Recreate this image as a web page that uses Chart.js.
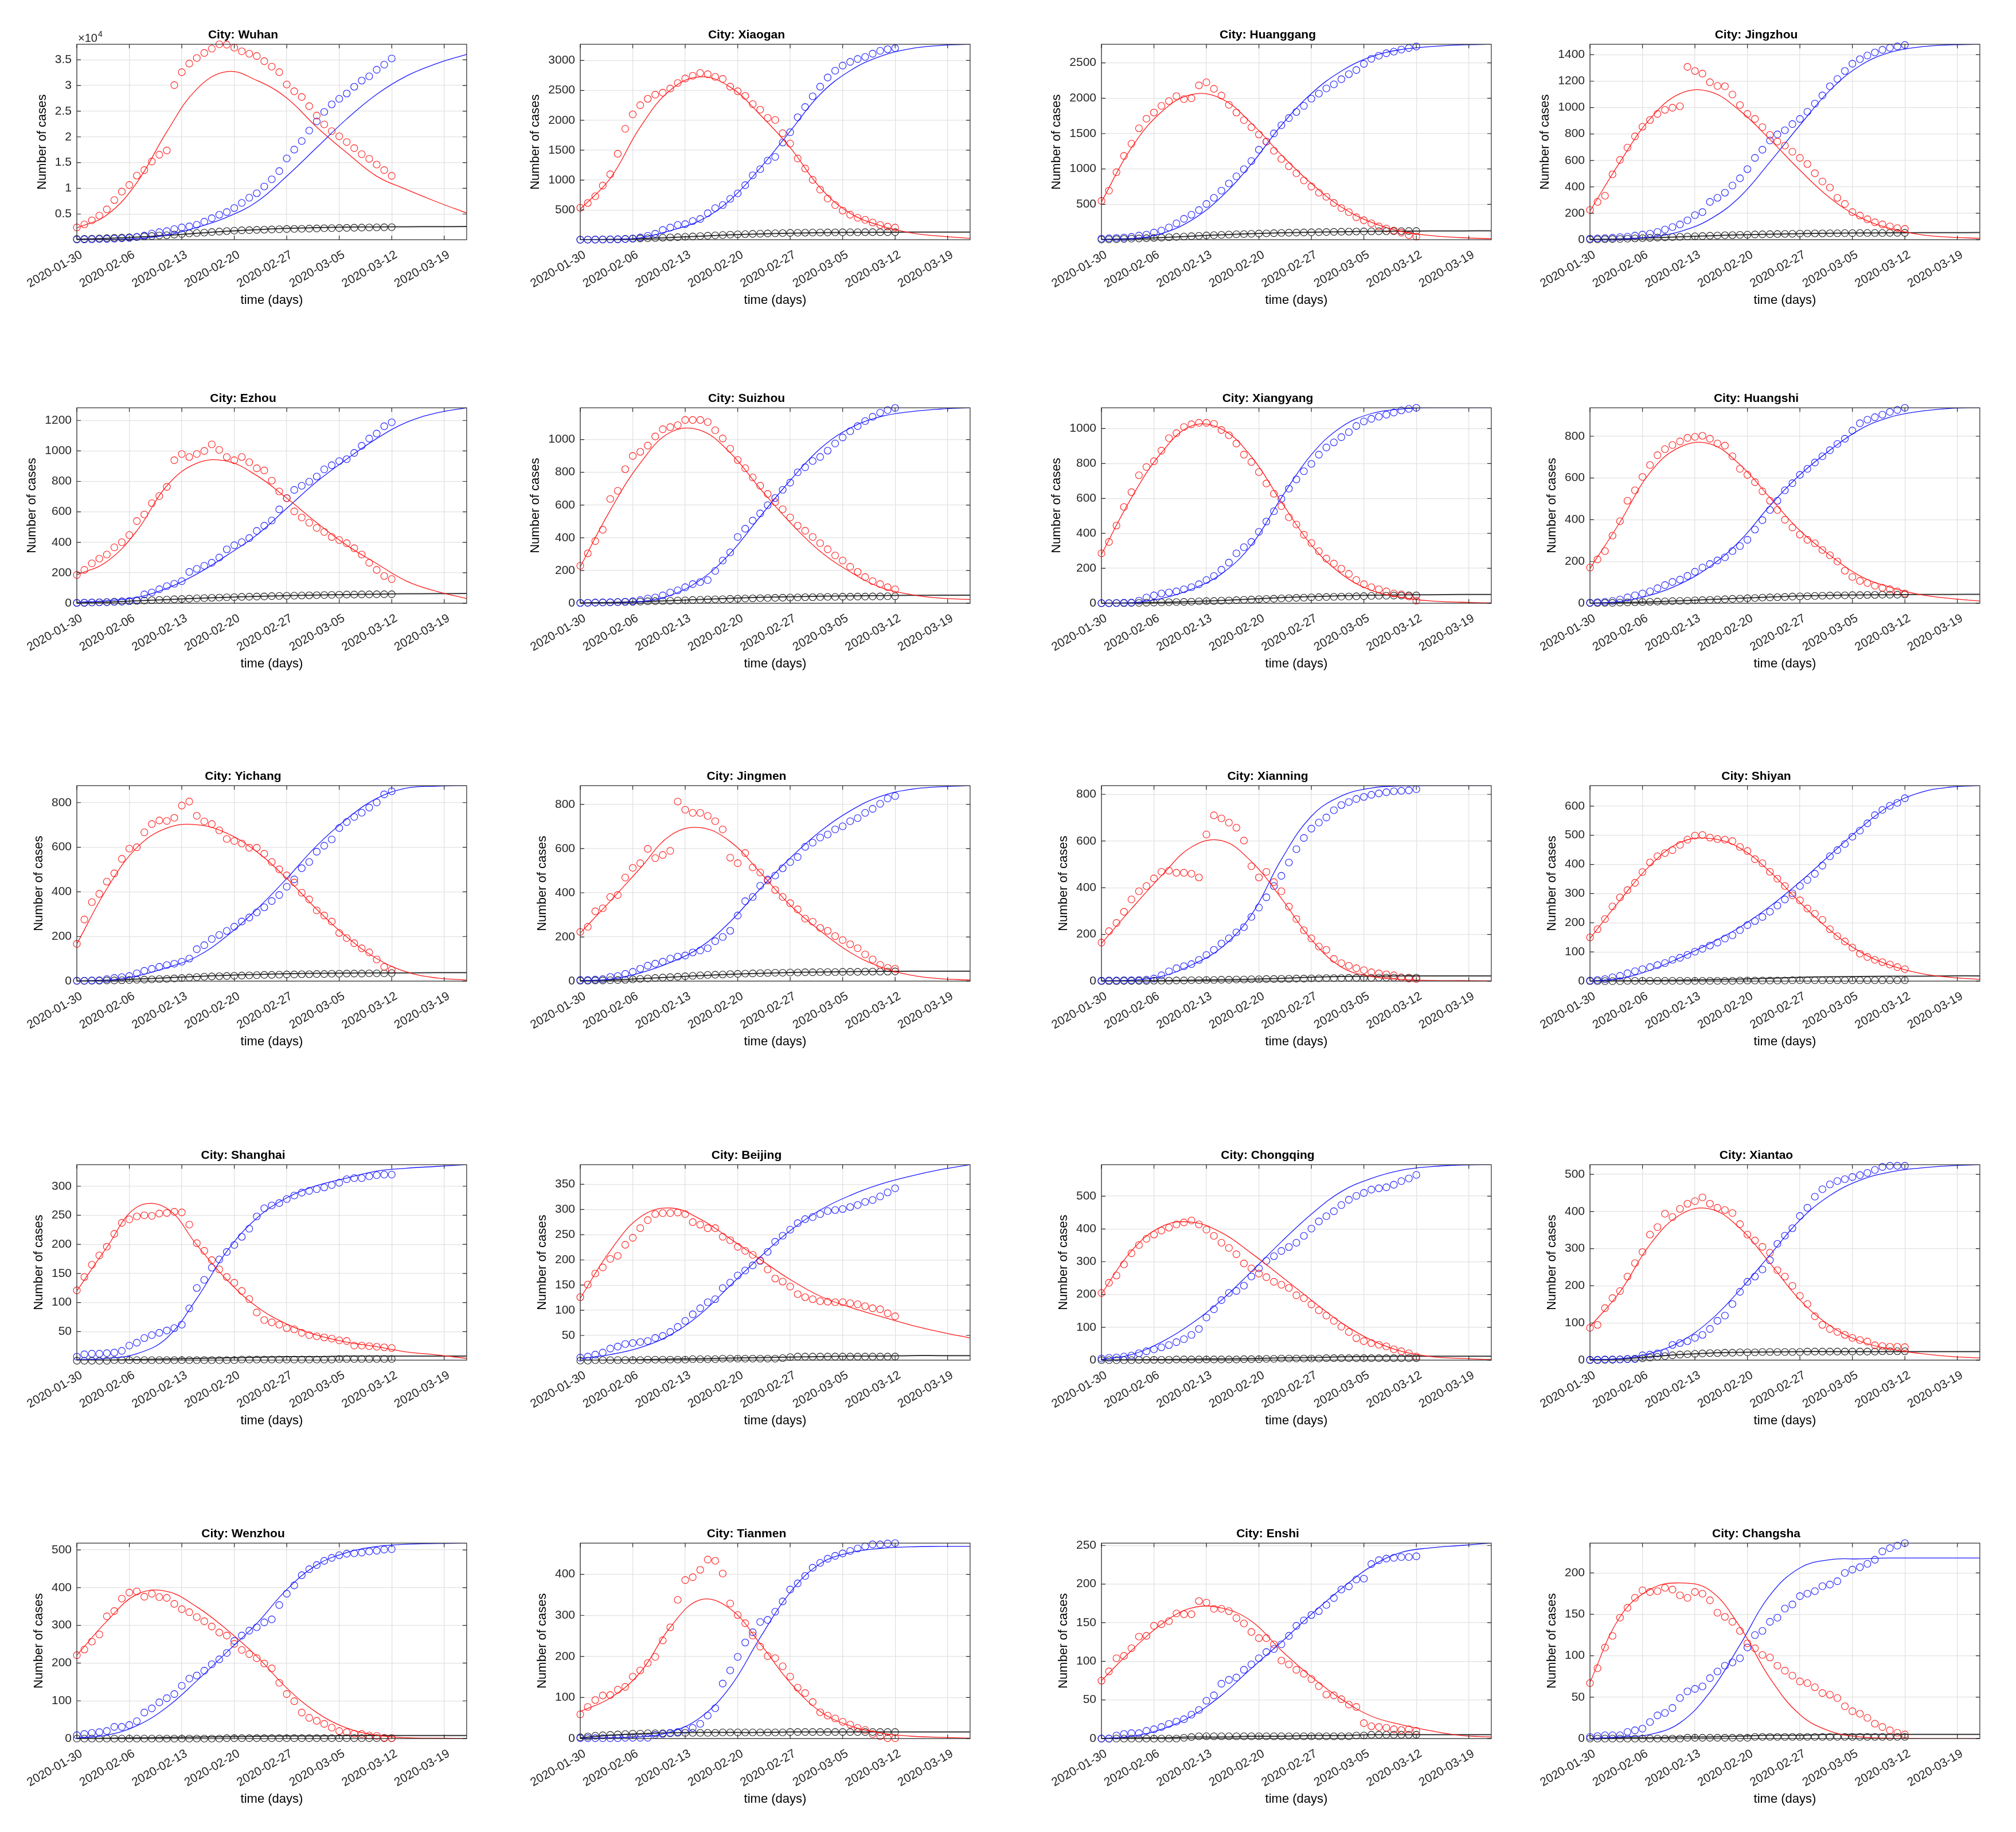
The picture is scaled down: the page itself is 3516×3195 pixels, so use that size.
<!DOCTYPE html>
<html><head><meta charset="utf-8">
<script src="https://cdn.jsdelivr.net/npm/chart.js@4.4.1/dist/chart.umd.min.js"></script>
<style>
html,body{margin:0;padding:0;background:#fff;}
#page{position:relative;width:3516px;height:3195px;overflow:hidden;background:#fff;}
#page canvas{position:absolute;}
</style></head><body><div id="page"></div>
<script>
// ---------- shared axis data ----------
const dateLabels = ['2020-01-30','2020-02-06','2020-02-13','2020-02-20','2020-02-27','2020-03-05','2020-03-12','2020-03-19'];
const tickDays = [0,7,14,21,28,35,42,49];
const fitDays = [0,4,8,12,16,20,24,28,32,36,40,44,48,52];
const cityNames = ['Wuhan','Xiaogan','Huanggang','Jingzhou','Ezhou','Suizhou','Xiangyang','Huangshi','Yichang','Jingmen','Xianning','Shiyan','Shanghai','Beijing','Chongqing','Xiantao','Wenzhou','Tianmen','Enshi','Changsha'];
const yMaxList = [38020,3270,2763,1479,1283,1194,1119,936,876,885,837,670,337,389,596,526,518,476,253,236];
const yMinList = [0,3,0,0,0,0,0,0,0,0,0,0,1,1,0,0,0,0,0,0];
const yTickFirst = [5000,500,500,0,0,0,0,0,0,0,0,0,50,50,0,0,0,0,0,0];
const yTickStep = [5000,500,500,200,200,200,200,200,200,200,200,100,50,50,100,100,100,100,50,50];

// ---------- Wuhan ----------
const activeWuhan = [2390,2990,3780,4700,5900,7730,9360,10640,12470,13550,15220,16530,17370,30080,32590,34260,35340,36330,37170,38020,37950,37370,36650,36180,35740,34740,33670,32590,30200,28880,27770,25980,24140,22430,21120,20120,19000,17810,16650,15740,14620,13550,12430];
const recoveredWuhan = [40,60,90,120,160,200,260,360,520,800,1200,1470,1670,2070,2390,2590,2910,3510,4180,4860,5380,6170,7170,8170,9040,10360,11750,13350,15810,17530,19200,21230,23020,24860,26330,27410,28450,29760,30960,31790,33070,34060,35260];
const deathsWuhan = [130,160,200,240,300,360,410,480,550,640,720,820,870,1000,1120,1230,1310,1380,1500,1580,1680,1770,1830,1860,1920,1960,2000,2040,2080,2100,2130,2170,2200,2240,2260,2280,2310,2340,2360,2380,2400,2420,2440];
const fitActiveWuhan = [2300,4800,11100,21000,29300,32700,31000,27570,21900,16930,12350,9760,7370,5180];
const fitRecoveredWuhan = [0,40,200,880,2390,4380,7370,12350,17930,23500,28290,31870,34260,36060];
const fitDeathsWuhan = [100,250,500,850,1250,1650,1950,2200,2350,2450,2500,2530,2550,2560];

// ---------- Xiaogan ----------
const activeXiaogan = [538,617,730,908,1097,1440,1858,2098,2252,2359,2427,2461,2530,2623,2698,2743,2790,2770,2725,2691,2561,2485,2407,2270,2177,2040,2005,1783,1611,1361,1193,1004,840,692,583,490,422,370,336,291,250,223,206];
const recoveredXiaogan = [3,4,5,6,8,10,14,25,41,69,103,165,206,250,264,315,350,446,531,583,686,778,915,1080,1183,1327,1388,1628,1800,2050,2221,2400,2561,2715,2828,2914,2976,3024,3058,3113,3161,3188,3205];
const deathsXiaogan = [3,4,6,8,10,13,17,20,24,28,32,37,42,46,52,58,64,70,76,82,88,93,97,101,104,108,111,114,117,119,121,123,124,125,126,127,128,128,129,129,129,129,129];
const fitActiveXiaogan = [514,1028,1885,2503,2725,2554,2091,1543,874,446,240,120,62,27];
const fitRecoveredXiaogan = [3,7,34,154,326,668,1200,1817,2434,2828,3068,3195,3250,3270];
const fitDeathsXiaogan = [3,8,22,40,62,84,100,112,120,125,128,130,131,131];

// ---------- Huanggang ----------
const activeHuanggang = [549,694,954,1185,1358,1575,1711,1798,1893,1960,2029,1988,2000,2182,2225,2133,2038,1908,1798,1691,1590,1488,1387,1257,1142,1040,939,838,751,665,607,520,448,390,318,275,231,188,159,130,101,64,43];
const recoveredHuanggang = [15,20,25,30,40,58,72,101,130,173,231,295,353,419,506,592,694,795,896,997,1113,1272,1387,1503,1618,1720,1806,1893,1994,2066,2139,2197,2269,2341,2399,2486,2558,2601,2636,2659,2688,2711,2731];
const deathsHuanggang = [3,5,8,11,15,18,22,26,30,35,40,45,50,55,60,65,69,73,77,80,84,87,90,93,96,99,101,103,105,107,109,111,113,114,116,117,118,119,120,121,122,123,123];
const fitActiveHuanggang = [535,1300,1806,2052,1994,1647,1199,795,462,246,116,58,29,14];
const fitRecoveredHuanggang = [5,14,87,275,607,1069,1618,2066,2384,2587,2688,2731,2754,2763];
const fitDeathsHuanggang = [3,14,30,50,70,85,97,106,113,118,121,124,125,126];

// ---------- Jingzhou ----------
const activeJingzhou = [225,286,333,495,604,697,782,855,906,952,983,999,1010,1308,1277,1257,1192,1164,1161,1099,1019,952,914,852,793,743,712,666,619,573,503,441,395,317,271,209,183,155,132,116,101,88,82];
const recoveredJingzhou = [8,10,12,15,20,23,31,39,46,59,77,96,116,147,186,209,286,317,356,410,465,534,619,681,751,797,828,875,914,968,1030,1092,1161,1216,1277,1332,1366,1394,1417,1437,1452,1463,1474];
const deathsJingzhou = [2,3,4,5,6,8,10,12,14,16,18,20,22,24,26,28,30,32,34,35,37,38,40,41,42,43,44,45,46,47,48,48,49,49,50,50,51,51,51,51,52,52,52];
const fitActiveJingzhou = [217,588,914,1105,1120,976,759,526,317,170,85,39,19,11];
const fitRecoveredJingzhou = [0,3,19,62,155,325,588,867,1130,1316,1417,1459,1474,1479];
const fitDeathsJingzhou = [2,6,14,22,30,37,42,46,49,51,52,53,53,54];

// ---------- Ezhou ----------
const activeEzhou = [186,219,262,293,320,367,401,448,540,583,657,704,764,939,980,960,980,1000,1043,1007,960,939,960,926,886,872,805,734,690,603,563,529,495,468,435,415,394,361,320,266,219,179,159];
const recoveredEzhou = [3,4,5,6,7,9,11,14,20,58,71,92,112,128,145,206,226,246,266,300,354,381,401,428,475,509,543,616,690,744,771,798,832,879,906,933,946,987,1034,1081,1114,1162,1188];
const deathsEzhou = [2,3,5,6,8,10,12,14,16,18,20,22,24,26,28,30,32,34,36,37,39,40,42,43,44,45,47,48,49,50,51,52,53,54,55,56,57,57,58,58,59,59,59];
const fitActiveEzhou = [186,273,475,771,919,933,838,690,529,381,260,145,78,31];
const fitRecoveredEzhou = [7,17,38,98,192,314,448,623,798,946,1081,1188,1249,1283];
const fitDeathsEzhou = [2,8,16,24,32,39,45,50,54,57,60,62,63,64];

// ---------- Suizhou ----------
const activeSuizhou = [229,305,380,449,637,687,819,900,925,963,1019,1063,1076,1088,1120,1120,1120,1107,1057,1007,944,875,825,769,718,668,618,574,524,474,443,405,367,330,292,261,223,192,160,135,117,98,85];
const recoveredSuizhou = [2,3,4,5,6,8,10,12,19,29,35,48,66,79,98,117,129,142,198,261,311,405,455,505,549,599,643,693,737,800,831,869,894,932,976,1013,1051,1082,1113,1139,1164,1180,1193];
const deathsSuizhou = [2,3,4,5,6,7,8,9,10,12,13,14,15,17,18,20,21,23,24,25,27,28,29,30,31,32,33,34,35,36,37,37,38,39,39,40,40,41,41,42,42,43,43];
const fitActiveSuizhou = [223,568,856,1044,1057,919,700,493,317,192,98,54,31,23];
const fitRecoveredSuizhou = [0,1,10,48,142,305,530,750,944,1070,1139,1170,1186,1194];
const fitDeathsSuizhou = [2,5,10,16,23,30,36,40,43,45,47,48,49,49];

// ---------- Xiangyang ----------
const activeXiangyang = [286,351,445,551,636,733,780,813,874,945,974,1009,1025,1033,1033,1027,992,962,915,851,809,751,686,627,556,492,451,392,345,298,256,227,198,168,133,109,92,80,68,56,51,39,15];
const recoveredXiangyang = [1,1,2,3,4,15,33,45,56,62,68,80,92,109,133,156,192,233,286,321,351,409,468,527,598,656,709,756,798,851,892,921,951,980,1015,1041,1056,1068,1080,1092,1104,1113,1119];
const deathsXiangyang = [0,0,1,1,2,2,3,4,5,6,7,8,9,11,12,13,15,16,18,20,21,23,25,26,28,29,31,32,34,35,36,37,38,39,40,41,42,43,43,44,44,45,45];
const fitActiveXiangyang = [280,604,862,1015,998,839,580,333,168,74,33,13,6,2];
const fitRecoveredXiangyang = [0,3,27,80,168,333,604,851,1009,1086,1112,1119,1119,1119];
const fitDeathsXiangyang = [0,2,5,10,16,24,32,38,43,46,48,49,50,50];

// ---------- Huangshi ----------
const activeHuangshi = [171,210,250,324,393,491,541,605,662,709,738,758,775,792,797,802,788,765,755,704,644,615,580,536,491,447,400,363,329,304,287,255,230,200,156,126,107,97,84,74,67,57,47];
const recoveredHuangshi = [3,5,7,11,18,28,38,47,57,72,87,102,113,131,151,171,188,205,220,250,274,304,353,398,447,491,541,575,615,644,674,704,733,763,788,827,862,879,891,903,916,926,936];
const deathsHuangshi = [1,1,2,2,3,4,5,6,7,8,9,10,11,12,14,15,16,18,19,21,22,24,25,27,28,29,30,32,33,34,35,36,37,38,38,39,39,40,40,41,41,41,42];
const fitActiveHuangshi = [166,388,625,748,763,664,506,348,230,131,77,42,23,11];
const fitRecoveredHuangshi = [1,8,38,92,176,299,467,615,733,832,891,919,933,936];
const fitDeathsHuangshi = [0,3,7,12,18,24,30,35,38,40,41,42,42,43];

// ---------- Yichang ----------
const activeYichang = [167,276,354,391,446,483,548,594,600,667,704,720,718,732,787,805,741,716,704,676,637,628,617,598,598,571,534,501,474,442,396,366,317,294,267,216,193,170,147,129,97,64,51];
const recoveredYichang = [2,2,3,4,9,14,18,23,35,46,55,64,72,78,87,101,143,161,189,207,225,244,267,285,308,331,359,386,423,456,506,534,580,607,635,686,713,736,755,778,801,837,851];
const deathsYichang = [1,1,2,2,3,3,4,5,6,7,8,9,10,12,14,16,18,20,21,22,23,24,25,26,27,28,28,29,30,30,31,31,32,32,33,33,34,34,34,35,35,35,36];
const fitActiveYichang = [166,414,598,686,701,663,580,460,322,198,101,41,14,5];
const fitRecoveredYichang = [0,3,23,60,110,202,322,460,607,727,819,865,874,876];
const fitDeathsYichang = [1,4,9,15,21,26,30,33,35,36,37,37,38,38];

// ---------- Jingmen ----------
const activeJingmen = [223,246,316,330,381,390,469,513,534,599,557,571,590,813,776,762,762,748,724,687,559,534,580,515,492,455,413,381,353,325,283,269,241,228,204,186,167,149,121,98,74,60,56];
const recoveredJingmen = [5,5,7,9,19,23,33,42,56,70,79,88,102,111,116,130,139,149,181,200,228,297,362,381,432,460,478,511,539,562,608,627,650,664,687,701,724,738,762,780,803,827,838];
const deathsJingmen = [2,2,3,3,4,5,6,8,10,12,14,16,18,20,22,24,26,28,29,30,32,33,34,35,36,37,38,38,39,39,40,40,41,41,41,42,42,42,43,43,43,43,44];
const fitActiveJingmen = [218,362,511,659,695,632,492,344,228,130,65,28,11,5];
const fitRecoveredJingmen = [2,9,37,84,153,269,418,557,678,771,836,868,880,885];
const fitDeathsJingmen = [2,5,11,18,25,31,35,39,41,43,44,45,45,45];

// ---------- Xianning ----------
const activeXianning = [165,214,249,297,350,385,407,440,468,473,464,464,460,444,628,710,697,679,657,602,492,444,468,424,385,319,266,218,183,148,134,95,77,66,55,47,38,33,29,25,16,11,9];
const recoveredXianning = [2,3,3,4,4,5,6,11,25,42,55,64,73,91,112,134,161,183,209,231,275,315,359,407,451,508,565,613,653,679,701,732,754,767,780,789,798,804,809,813,815,817,822];
const deathsXianning = [0,0,0,1,1,1,1,2,2,2,3,3,4,4,5,5,6,6,7,7,8,8,9,9,10,10,11,11,12,12,13,13,13,14,14,14,14,15,15,15,15,15,15];
const fitActiveXianning = [161,310,451,574,602,512,354,178,60,20,7,3,2,1];
const fitRecoveredXianning = [2,4,20,69,143,284,521,706,793,827,836,837,837,837];
const fitDeathsXianning = [0,1,2,4,6,8,12,17,20,21,22,22,22,22];

// ---------- Shiyan ----------
const activeShiyan = [150,178,213,256,287,312,337,374,407,428,439,449,467,485,499,501,492,487,485,480,460,446,418,404,375,351,326,294,277,249,231,210,178,154,136,115,94,83,73,65,57,48,41];
const recoveredShiyan = [2,4,7,13,18,27,34,41,48,55,62,73,80,90,101,111,122,132,146,157,175,192,206,220,238,259,280,301,326,347,368,396,428,449,470,495,516,541,569,587,601,611,627];
const deathsShiyan = [0,0,0,0,0,1,1,1,1,1,1,1,1,1,1,1,1,1,1,1,2,2,2,2,2,2,2,3,3,3,3,3,3,3,3,3,3,3,3,3,3,3,3];
const fitActiveShiyan = [146,277,396,475,489,456,375,270,175,101,55,27,13,6];
const fitRecoveredShiyan = [1,9,37,80,129,185,256,340,432,523,601,646,665,670];
const fitDeathsShiyan = [0,1,2,3,5,7,10,13,15,16,17,17,18,18];

// ---------- Shanghai ----------
const activeShanghai = [121,144,165,181,196,218,237,243,248,250,249,253,254,256,255,234,202,189,173,157,144,134,120,106,83,70,66,62,56,54,48,44,42,40,38,35,34,26,26,25,24,23,22];
const recoveredShanghai = [7,11,12,12,13,14,17,26,31,39,44,48,52,56,62,90,125,139,160,174,187,199,213,227,248,262,267,271,278,284,289,292,295,298,302,306,312,314,314,317,319,320,320];
const deathsShanghai = [0,0,0,0,0,1,1,1,1,1,1,1,1,1,1,1,1,1,1,1,1,1,2,2,2,2,2,2,2,2,2,2,2,2,2,3,3,3,3,3,3,3,3];
const fitActiveShanghai = [120,195,264,262,199,139,93,63,44,32,24,15,10,4];
const fitRecoveredShanghai = [2,4,12,39,107,188,245,280,301,314,326,331,334,337];
const fitDeathsShanghai = [0,1,2,3,4,5,6,7,7,8,8,8,8,8];

// ---------- Beijing ----------
const activeBeijing = [126,151,173,185,202,208,230,244,263,279,291,293,293,294,291,275,270,263,263,246,239,226,218,210,199,181,163,157,147,132,126,122,118,117,116,116,114,112,108,104,102,94,88];
const recoveredBeijing = [6,8,12,16,24,28,33,35,37,39,45,49,57,67,79,92,104,116,122,144,155,169,179,189,198,216,236,248,260,273,281,285,291,297,299,301,305,309,315,319,326,334,342];
const deathsBeijing = [0,0,1,1,1,1,1,1,1,2,2,2,2,2,2,3,3,3,3,4,4,4,4,4,4,4,4,5,7,8,8,8,8,8,8,8,8,8,8,8,8,8,8];
const fitActiveBeijing = [124,218,285,303,281,242,201,161,128,106,88,71,57,45];
const fitRecoveredBeijing = [4,12,26,51,92,149,206,258,299,328,350,366,379,389];
const fitDeathsBeijing = [0,1,2,3,4,5,6,7,8,9,9,10,10,10];

// ---------- Chongqing ----------
const activeChongqing = [205,236,258,292,326,351,370,383,395,404,414,420,426,414,398,379,358,342,323,295,280,264,253,239,230,220,198,189,170,152,136,120,102,86,67,58,52,47,42,33,27,21,11];
const recoveredChongqing = [5,7,8,11,14,21,27,33,39,46,55,64,77,95,130,155,183,205,211,227,255,280,303,317,333,345,358,379,401,423,439,454,473,489,501,510,520,524,527,535,546,554,565];
const deathsChongqing = [0,0,0,0,0,1,1,1,1,1,2,2,2,2,2,2,2,2,2,3,3,3,4,4,5,5,5,5,5,5,6,6,6,6,6,6,6,6,6,6,6,6,6];
const fitActiveChongqing = [202,333,407,421,389,326,255,183,114,61,27,11,5,2];
const fitRecoveredChongqing = [2,17,55,111,183,270,361,445,514,554,579,590,595,596];
const fitDeathsChongqing = [0,1,2,3,4,5,7,8,10,11,12,12,12,12];

// ---------- Xiantao ----------
const activeXiantao = [87,95,140,167,186,225,261,291,338,358,394,385,407,421,428,438,421,410,404,396,366,338,322,305,289,242,225,200,173,151,118,95,84,76,68,60,54,50,40,38,36,36,35];
const recoveredXiantao = [1,1,2,2,2,3,3,13,15,18,21,41,46,51,60,68,84,106,120,151,184,211,225,244,269,313,335,355,388,410,440,460,473,482,487,493,498,504,512,520,523,523,523];
const deathsXiantao = [0,0,1,1,2,3,4,5,7,9,11,13,15,16,17,18,19,19,20,20,21,21,21,22,22,22,22,22,22,23,23,23,23,23,23,23,23,23,23,24,24,24,24];
const fitActiveXiantao = [90,184,311,391,407,355,261,162,93,51,30,18,10,6];
const fitRecoveredXiantao = [2,4,18,49,106,189,283,377,443,484,506,517,523,526];
const fitDeathsXiantao = [0,3,9,15,19,21,22,23,23,23,23,23,23,23];

// ---------- Wenzhou ----------
const activeWenzhou = [221,236,257,276,324,338,371,387,390,376,384,375,373,357,343,335,322,311,297,281,273,251,235,224,213,199,186,148,118,99,69,55,47,39,29,20,17,13,12,8,7,2,1];
const recoveredWenzhou = [9,12,15,17,20,31,31,36,46,69,80,96,107,118,140,159,167,180,197,210,227,259,273,286,295,308,316,354,384,406,433,449,460,471,479,486,490,491,493,496,498,501,502];
const deathsWenzhou = [0,0,0,0,0,0,0,0,0,0,0,0,0,0,0,0,0,0,0,0,1,1,1,1,1,1,1,1,1,1,1,1,1,1,1,1,1,1,1,1,1,1,1];
const fitActiveWenzhou = [221,311,382,390,349,289,218,134,69,28,9,2,1,0];
const fitRecoveredWenzhou = [1,9,34,83,153,229,305,395,460,493,509,515,517,518];
const fitDeathsWenzhou = [0,1,2,3,4,5,6,7,7,8,8,8,8,8];

// ---------- Tianmen ----------
const activeTianmen = [59,77,94,105,106,119,126,151,166,184,199,239,271,338,386,393,411,436,433,402,329,301,281,251,224,201,196,176,151,124,111,89,64,56,49,41,34,26,21,11,6,1,1];
const recoveredTianmen = [1,1,1,1,1,1,2,2,2,2,9,11,14,16,21,26,36,56,74,134,166,199,234,259,284,289,309,334,363,378,396,416,428,438,445,451,457,463,468,473,473,475,476];
const deathsTianmen = [3,5,7,8,9,10,11,12,12,13,13,13,13,14,14,14,14,14,14,15,15,15,15,15,15,15,15,15,16,16,16,16,16,16,16,16,16,16,16,16,16,16,16];
const fitActiveTianmen = [66,99,161,271,338,316,231,136,66,31,14,6,3,1];
const fitRecoveredTianmen = [1,2,4,16,51,126,246,356,426,453,463,467,468,468];
const fitDeathsTianmen = [2,8,12,14,15,15,15,16,16,16,16,16,16,16];

// ---------- Enshi ----------
const activeEnshi = [75,87,104,107,117,132,133,146,148,152,162,161,161,178,176,168,168,165,156,149,138,130,130,122,101,96,89,84,77,68,57,56,51,44,41,20,16,15,14,12,11,12,10];
const recoveredEnshi = [0,0,4,6,7,7,10,12,15,19,22,25,31,37,49,56,71,76,79,89,96,104,112,116,122,133,146,153,160,165,173,182,193,197,206,207,226,231,233,234,235,235,236];
const deathsEnshi = [0,0,0,0,0,0,0,0,0,0,0,1,2,3,3,3,3,3,3,3,3,3,3,3,3,3,3,3,3,3,3,3,3,3,4,4,5,5,5,5,5,5,5];
const fitActiveEnshi = [75,114,148,169,169,152,114,80,51,29,18,10,4,2];
const fitRecoveredEnshi = [0,3,12,29,56,91,125,161,194,223,241,247,250,253];
const fitDeathsEnshi = [0,1,1,2,2,3,3,4,4,5,5,5,5,5];

// ---------- Changsha ----------
const activeChangsha = [67,85,110,124,146,158,170,179,177,178,182,180,173,170,177,175,167,152,147,141,130,115,109,101,98,88,82,76,69,67,62,55,53,49,39,33,30,25,18,14,10,7,5];
const recoveredChangsha = [2,3,4,4,4,8,10,12,20,28,31,37,49,57,60,63,73,81,88,92,97,110,125,130,141,146,157,162,172,175,178,184,186,190,200,204,207,211,216,226,230,233,236];
const deathsChangsha = [0,0,0,0,0,0,0,0,0,0,0,0,0,1,1,1,1,1,1,1,1,1,2,2,2,2,2,2,2,2,2,2,2,2,2,2,2,2,2,2,2,2,2];
const fitActiveChangsha = [68,147,180,188,179,135,73,29,9,2,0.5,0,0,0];
const fitRecoveredChangsha = [0,2,5,19,56,113,173,206,216,217,218,218,218,218];
const fitDeathsChangsha = [0,1,1,2,2,3,4,4,5,5,5,5,5,5];

// ---------- table built from the arrays ----------
const cityTable = [
  [activeWuhan,recoveredWuhan,deathsWuhan,fitActiveWuhan,fitRecoveredWuhan,fitDeathsWuhan],
  [activeXiaogan,recoveredXiaogan,deathsXiaogan,fitActiveXiaogan,fitRecoveredXiaogan,fitDeathsXiaogan],
  [activeHuanggang,recoveredHuanggang,deathsHuanggang,fitActiveHuanggang,fitRecoveredHuanggang,fitDeathsHuanggang],
  [activeJingzhou,recoveredJingzhou,deathsJingzhou,fitActiveJingzhou,fitRecoveredJingzhou,fitDeathsJingzhou],
  [activeEzhou,recoveredEzhou,deathsEzhou,fitActiveEzhou,fitRecoveredEzhou,fitDeathsEzhou],
  [activeSuizhou,recoveredSuizhou,deathsSuizhou,fitActiveSuizhou,fitRecoveredSuizhou,fitDeathsSuizhou],
  [activeXiangyang,recoveredXiangyang,deathsXiangyang,fitActiveXiangyang,fitRecoveredXiangyang,fitDeathsXiangyang],
  [activeHuangshi,recoveredHuangshi,deathsHuangshi,fitActiveHuangshi,fitRecoveredHuangshi,fitDeathsHuangshi],
  [activeYichang,recoveredYichang,deathsYichang,fitActiveYichang,fitRecoveredYichang,fitDeathsYichang],
  [activeJingmen,recoveredJingmen,deathsJingmen,fitActiveJingmen,fitRecoveredJingmen,fitDeathsJingmen],
  [activeXianning,recoveredXianning,deathsXianning,fitActiveXianning,fitRecoveredXianning,fitDeathsXianning],
  [activeShiyan,recoveredShiyan,deathsShiyan,fitActiveShiyan,fitRecoveredShiyan,fitDeathsShiyan],
  [activeShanghai,recoveredShanghai,deathsShanghai,fitActiveShanghai,fitRecoveredShanghai,fitDeathsShanghai],
  [activeBeijing,recoveredBeijing,deathsBeijing,fitActiveBeijing,fitRecoveredBeijing,fitDeathsBeijing],
  [activeChongqing,recoveredChongqing,deathsChongqing,fitActiveChongqing,fitRecoveredChongqing,fitDeathsChongqing],
  [activeXiantao,recoveredXiantao,deathsXiantao,fitActiveXiantao,fitRecoveredXiantao,fitDeathsXiantao],
  [activeWenzhou,recoveredWenzhou,deathsWenzhou,fitActiveWenzhou,fitRecoveredWenzhou,fitDeathsWenzhou],
  [activeTianmen,recoveredTianmen,deathsTianmen,fitActiveTianmen,fitRecoveredTianmen,fitDeathsTianmen],
  [activeEnshi,recoveredEnshi,deathsEnshi,fitActiveEnshi,fitRecoveredEnshi,fitDeathsEnshi],
  [activeChangsha,recoveredChangsha,deathsChangsha,fitActiveChangsha,fitRecoveredChangsha,fitDeathsChangsha]
];

// ---------- layout (pixels) ----------
const colLefts = [134,1012,1921,2773];
const rowTops = [77,711,1370,2031,2691];
const PW = 680, PH = 341;
const FONT = "'Liberation Sans', Arial, Helvetica, sans-serif";
const AX = '#262626';

Chart.defaults.font.family = FONT;

const boxPlugin = {
  id: 'matlabBox',
  afterDatasetsDraw(chart, args, opts) {
    const {ctx, chartArea: a} = chart;
    const x = chart.scales.x, y = chart.scales.y;
    ctx.save();
    ctx.strokeStyle = AX; ctx.lineWidth = 1.2;
    ctx.strokeRect(a.left, a.top, a.right - a.left, a.bottom - a.top);
    const L = 7;
    ctx.beginPath();
    x.ticks.forEach(t => { const p = x.getPixelForValue(t.value);
      ctx.moveTo(p, a.bottom); ctx.lineTo(p, a.bottom - L);
      ctx.moveTo(p, a.top); ctx.lineTo(p, a.top + L); });
    y.ticks.forEach(t => { const p = y.getPixelForValue(t.value);
      ctx.moveTo(a.left, p); ctx.lineTo(a.left + L, p);
      ctx.moveTo(a.right, p); ctx.lineTo(a.right - L, p); });
    ctx.stroke();
    if (opts && opts.exponent) {
      ctx.fillStyle = AX; ctx.textAlign = 'left'; ctx.textBaseline = 'alphabetic';
      ctx.font = '20px ' + FONT;
      const base = a.top - 4;
      ctx.fillText('\u00d710', a.left + 2, base);
      const w = ctx.measureText('\u00d710').width;
      ctx.font = '14px ' + FONT;
      ctx.fillText(opts.exponent, a.left + 3 + w, base - 9);
    }
    ctx.restore();
  }
};

function makeConfig(k) {
  const [act, rec, dea, fa, fr, fd] = cityTable[k];
  const yt = [];
  for (let v = yTickFirst[k]; v <= yMaxList[k] + 1e-9; v += yTickStep[k]) yt.push(v);
  const pts = arr => arr.map((v, i) => ({x: i, y: v}));
  const fit = arr => arr.map((v, i) => ({x: fitDays[i], y: v}));
  const circ = (arr, c) => ({data: pts(arr), showLine: false, pointStyle: 'circle', pointRadius: 6,
    pointBorderWidth: 1.1, pointBackgroundColor: 'rgba(0,0,0,0)', pointBorderColor: c, borderColor: c, clip: false});
  const line = (arr, c, w) => ({data: fit(arr), showLine: true, pointRadius: 0, borderWidth: w,
    borderColor: c, tension: 0.4, fill: false});
  const isW = k === 0;
  return {
    type: 'line',
    data: {datasets: [
      line(fa, '#ff1a1a', 1.3), line(fr, '#1a1aff', 1.3), line(fd, 'rgba(20,20,20,0.85)', 2),
      circ(act, '#ff2020'), circ(rec, '#2020ff'), circ(dea, '#202020')
    ]},
    options: {
      responsive: false, maintainAspectRatio: false, animation: false, devicePixelRatio: 1, events: [],
      layout: {padding: 0},
      plugins: {
        legend: {display: false}, tooltip: {enabled: false},
        title: {display: true, text: 'City: ' + cityNames[k], color: '#000',
          font: {size: 21, weight: 'bold', family: FONT}, padding: {top: 0, bottom: 3}},
        matlabBox: {exponent: isW ? '4' : null}
      },
      scales: {
        x: {type: 'linear', min: 0, max: 52,
          afterBuildTicks: ax => { ax.ticks = tickDays.map(v => ({value: v})); },
          ticks: {autoSkip: false, minRotation: 30, maxRotation: 30, labelOffset: 8, padding: 14,
            color: AX, font: {size: 21}, callback: (v, i) => dateLabels[i]},
          grid: {color: '#e2e2e2', lineWidth: 1.3, drawTicks: false},
          border: {display: false},
          title: {display: true, text: 'time (days)', color: '#000', font: {size: 22}, padding: {top: -11, bottom: 0}}
        },
        y: {min: yMinList[k], max: yMaxList[k],
          afterBuildTicks: ax => { ax.ticks = yt.map(v => ({value: v})); },
          ticks: {autoSkip: false, padding: 9, color: AX, font: {size: 21},
            callback: v => isW ? String(v / 10000) : String(v)},
          grid: {color: '#e2e2e2', lineWidth: 1.3, drawTicks: false},
          border: {display: false},
          title: {display: true, text: 'Number of cases', color: '#000', font: {size: 22}, padding: {top: 0, bottom: 0}}
        }
      }
    },
    plugins: [boxPlugin]
  };
}

const page = document.getElementById('page');
function newCanvas(w, h) {
  const cv = document.createElement('canvas');
  cv.width = w; cv.height = h; cv.style.width = w + 'px'; cv.style.height = h + 'px';
  page.appendChild(cv);
  return cv;
}
for (let k = 0; k < cityNames.length; k++) {
  const row = Math.floor(k / 4), col = k % 4;
  const PL = colLefts[col], PT = rowTops[row];
  const W0 = PW + 220, H0 = PH + 190;
  let cv = newCanvas(W0, H0);
  let ch = new Chart(cv, makeConfig(k));
  let a = ch.chartArea;
  const W1 = Math.round(W0 + PW - (a.right - a.left));
  const H1 = Math.round(H0 + PH - (a.bottom - a.top));
  ch.destroy(); cv.remove();
  cv = newCanvas(W1, H1);
  ch = new Chart(cv, makeConfig(k));
  a = ch.chartArea;
  cv.style.left = Math.round(PL - a.left) + 'px';
  cv.style.top = Math.round(PT - a.top) + 'px';
}
</script></body></html>
